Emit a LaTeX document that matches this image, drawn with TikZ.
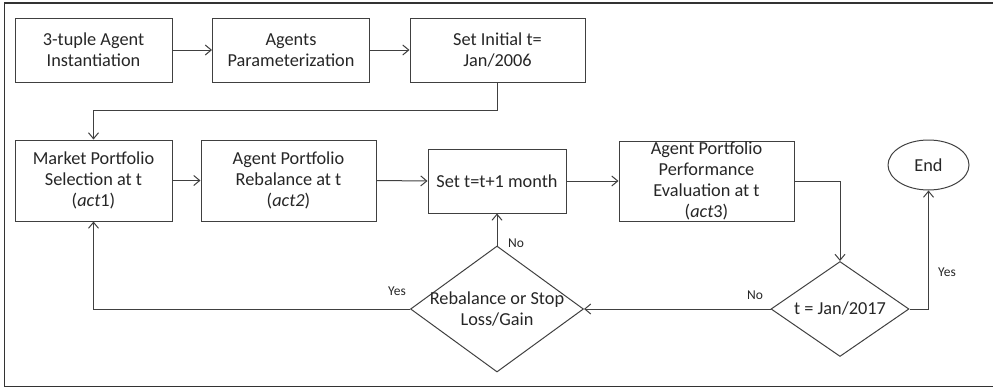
\documentclass[tikz,border=0pt]{standalone}
\usepackage{fontspec}
\setmainfont{Carlito}
\usetikzlibrary{shapes.geometric,arrows.meta}
\begin{document}
\begin{tikzpicture}[x=1pt,y=-1pt,
  every node/.style={font=\fontsize{18.3}{21}\selectfont, text=black!85},
  line/.style={draw=black!75, line width=1pt},
  arr/.style={line, -{Straight Barb[length=6pt,width=10pt]}},
  box/.style={line, rectangle, align=center, inner sep=0pt},
  dec/.style={line, diamond, inner sep=0pt},
  lbl/.style={font=\fontsize{13.5}{15}\selectfont, inner sep=0pt}]
\useasboundingbox (0,0) rectangle (993,388);
\draw[draw=black!80, line width=1.6pt] (993,3) -- (4.5,3) -- (4.5,386.5) -- (993,386.5);
% top row
\node[box, minimum width=157, minimum height=64] (b1) at (93.5,50) {3-tuple Agent\\Instantiation};
\node[box, minimum width=157, minimum height=64] (b2) at (291,50) {Agents\\Parameterization};
\node[box, minimum width=175, minimum height=64] (b3) at (497.5,50) {Set Initial t=\\Jan/2006};
% middle row
\node[box, minimum width=157, minimum height=81] (b4) at (93.5,180.5) {Market Portfolio\\Selection at t\\(\textit{act}1)};
\node[box, minimum width=175, minimum height=81] (b5) at (288.5,180.5) {Agent Portfolio\\Rebalance at t\\(\textit{act2})};
\node[box, minimum width=138, minimum height=64] (b6) at (497,181) {Set t=t+1 month};
\node[box, minimum width=175, minimum height=80] (b7) at (706.5,181) {Agent Portfolio\\Performance\\Evaluation at t\\(\textit{act}3)};
\node[line, ellipse, minimum width=81, minimum height=50, inner sep=0pt] (end) at (928.5,165) {End};
% decisions
\node[dec, minimum width=138, minimum height=95, label={[align=center]center:t = Jan/2017}] (d1) at (840,309) {};
\node[dec, minimum width=173, minimum height=126, label={[align=center]center:Rebalance or Stop\\Loss/Gain}] (d2) at (497,309) {};
% connectors
\draw[arr] (b1.east) -- (b2.west);
\draw[arr] (b2.east) -- (b3.west);
\draw[arr] (b3.south) -- ++(0,28) -| (b4.north);
\draw[arr] (b4.east) -- (b5.west);
\draw[arr] (b5.east) -- (b6.west);
\draw[arr] (b6.east) -- (b7.west);
\draw[arr] (b7.east) -| (d1.north);
\draw[arr] (d1.east) -| (end.south);
\draw[arr] (d1.west) -- (d2.east);
\draw[arr] (d2.north) -- (b6.south);
\draw[arr] (d2.west) -| (b4.south);
% labels
\node[lbl] (yes1) at (947,272) {Yes};
\node[lbl] (no1) at (755,295) {No};
\node[lbl] (no2) at (516,243) {No};
\node[lbl] (yes2) at (397,291) {Yes};
\end{tikzpicture}
\end{document}
